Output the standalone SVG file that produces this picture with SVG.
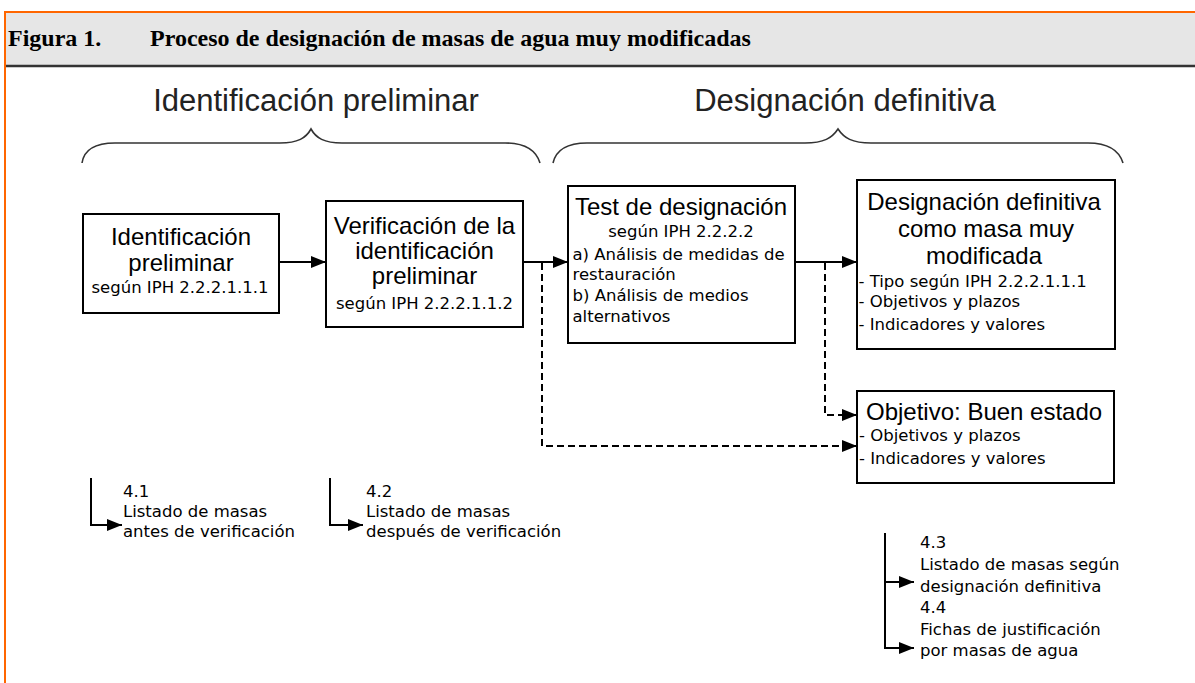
<svg xmlns="http://www.w3.org/2000/svg" width="1195" height="683" viewBox="0 0 1195 683">
<defs>
<style>
.box{fill:#fff;stroke:#000;stroke-width:2}
.big{font-family:"Liberation Sans",Arial,sans-serif;font-size:24px;fill:#000}
.sm{font-family:"DejaVu Sans",Verdana,sans-serif;font-size:16.5px;fill:#000}
.ttl{font-family:"Liberation Sans",Arial,sans-serif;font-size:31px;fill:#222}
.hdr{font-family:"Liberation Serif","Times New Roman",serif;font-size:24px;font-weight:bold;fill:#000}
.mid{text-anchor:middle}
.ln{fill:none;stroke:#000;stroke-width:2}
.dash{fill:none;stroke:#000;stroke-width:2;stroke-dasharray:7 4}
.brace{fill:none;stroke:#333;stroke-width:1.6}
</style>
<marker id="ah" markerUnits="userSpaceOnUse" markerWidth="16" markerHeight="14" refX="15" refY="7" orient="auto">
<path d="M0,1 L15,7 L0,13 z" fill="#000"/>
</marker>
</defs>
<rect x="0" y="0" width="1195" height="683" fill="#fff"/>
<g id="header">
<rect x="6" y="13" width="1189" height="52" fill="#e6e6e6"/>
<line x1="4" y1="12" x2="1195" y2="12" stroke="#ff6600" stroke-width="2"/>
<line x1="5" y1="11" x2="5" y2="683" stroke="#ff6600" stroke-width="2"/>
<line x1="6" y1="66" x2="1195" y2="66" stroke="#333" stroke-width="2.5"/>
<text class="hdr" x="8" y="46">Figura 1.</text>
<text class="hdr" x="150" y="46">Proceso de designación de masas de agua muy modificadas</text>
</g>
<g id="phase-titles">
<text class="ttl mid" x="316" y="111">Identificación preliminar</text>
<text class="ttl mid" x="845" y="111">Designación definitiva</text>
<path class="brace" d="M82,163 C84,150 95,143 115,143 L280,143 C298,143 306,138 311,129 C316,138 324,143 342,143 L505,143 C525,143 536,150 540,163"/>
<path class="brace" d="M553,163 C556,150 567,143 587,143 L805,143 C824,143 832,138 838,129 C844,138 852,143 871,143 L1088,143 C1108,143 1119,150 1123,163"/>
</g>
<g id="connectors">
<line class="ln" x1="279" y1="262" x2="326" y2="262" marker-end="url(#ah)"/>
<line class="ln" x1="523" y1="262" x2="568" y2="262" marker-end="url(#ah)"/>
<line class="ln" x1="795" y1="262" x2="857" y2="262" marker-end="url(#ah)"/>
<polyline class="dash" points="542,263 542,446 857,446" marker-end="url(#ah)"/>
<polyline class="dash" points="825,263 825,415 857,415" marker-end="url(#ah)"/>
<polyline class="ln" points="91,478 91,525 122,525" marker-end="url(#ah)"/>
<polyline class="ln" points="330,478 330,525 363,525" marker-end="url(#ah)"/>
<polyline class="ln" points="885,533 885,648 914,648" marker-end="url(#ah)"/>
<line class="ln" x1="885" y1="582" x2="914" y2="582" marker-end="url(#ah)"/>
</g>
<g id="n1">
<rect class="box" x="83" y="214" width="196" height="99"/>
<text class="big mid" x="181" y="245">Identificación</text>
<text class="big mid" x="181" y="271">preliminar</text>
<text class="sm mid" x="180" y="292.5">según IPH 2.2.2.1.1.1</text>
</g>
<g id="n2">
<rect class="box" x="326" y="201" width="197" height="126"/>
<text class="big mid" x="424.5" y="233.5">Verificación de la</text>
<text class="big mid" x="424.5" y="258.5">identificación</text>
<text class="big mid" x="424.5" y="283.5">preliminar</text>
<text class="sm mid" x="424.5" y="308.5">según IPH 2.2.2.1.1.2</text>
</g>
<g id="n3">
<rect class="box" x="568" y="186" width="227" height="157"/>
<text class="big mid" x="681" y="214.5">Test de designación</text>
<text class="sm mid" x="681" y="237">según IPH 2.2.2.2</text>
<text class="sm" x="572.5" y="259.5">a) Análisis de medidas de</text>
<text class="sm" x="572.5" y="279.5">restauración</text>
<text class="sm" x="572.5" y="301">b) Análisis de medios</text>
<text class="sm" x="572.5" y="321.5">alternativos</text>
</g>
<g id="n4">
<rect class="box" x="857" y="180" width="258" height="169"/>
<text class="big mid" x="984" y="209.5">Designación definitiva</text>
<text class="big mid" x="986" y="236.5">como masa muy</text>
<text class="big mid" x="984" y="264">modificada</text>
<text class="sm" x="858.5" y="287">- Tipo según IPH 2.2.2.1.1.1</text>
<text class="sm" x="858.5" y="307">- Objetivos y plazos</text>
<text class="sm" x="858.5" y="329.5">- Indicadores y valores</text>
</g>
<g id="n5">
<rect class="box" x="857" y="391" width="257" height="92"/>
<text class="big" x="866" y="419.5">Objetivo: Buen estado</text>
<text class="sm" x="859" y="441">- Objetivos y plazos</text>
<text class="sm" x="859" y="463.5">- Indicadores y valores</text>
</g>
<g id="out41">
<text class="sm" x="123" y="497">4.1</text>
<text class="sm" x="123" y="517">Listado de masas</text>
<text class="sm" x="123" y="537">antes de verificación</text>
</g>
<g id="out42">
<text class="sm" x="366" y="497">4.2</text>
<text class="sm" x="366" y="517">Listado de masas</text>
<text class="sm" x="366" y="537">después de verificación</text>
</g>
<g id="out43">
<text class="sm" x="920" y="548">4.3</text>
<text class="sm" x="920" y="569.5">Listado de masas según</text>
<text class="sm" x="920" y="591.5">designación definitiva</text>
</g>
<g id="out44">
<text class="sm" x="920" y="613">4.4</text>
<text class="sm" x="920" y="634.5">Fichas de justificación</text>
<text class="sm" x="920" y="656">por masas de agua</text>
</g>
</svg>
